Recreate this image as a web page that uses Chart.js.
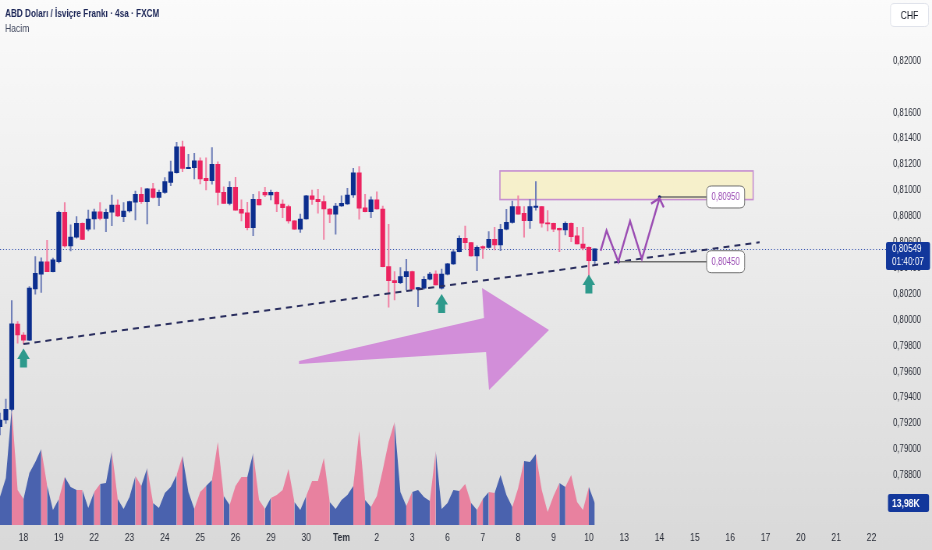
<!DOCTYPE html>
<html><head><meta charset="utf-8">
<script src="https://cdn.jsdelivr.net/npm/chart.js@4.4.1/dist/chart.umd.min.js"></script>
<style>
html,body{margin:0;padding:0;background:#e6e6e6;overflow:hidden;}
#outer{position:relative;width:932px;height:550px;overflow:hidden;}
#wrap{position:absolute;left:0;top:0;width:1195px;height:550px;transform:scaleX(0.779916);transform-origin:0 0;}
</style>
</head><body><div id="outer"><div id="wrap"><canvas id="c"></canvas></div></div>
<script>
// ---------- DATA (4h bars, bar index 0 = first bar of the 18th) ----------
const FIRST_BAR = -4;
const openP  = [0.79176,0.79228,0.79310,0.79968,0.79883,0.79845,0.80240,0.80354,0.80450,0.80374,0.80450,0.80832,0.80572,0.80639,0.80747,0.80701,0.80780,0.80836,0.80785,0.80832,0.80888,0.80798,0.80842,0.80909,0.80971,0.80914,0.81012,0.80947,0.80986,0.81063,0.81137,0.81338,0.81168,0.81176,0.81230,0.81094,0.81076,0.81202,0.80986,0.80901,0.81025,0.80855,0.80828,0.80713,0.80932,0.80986,0.80965,0.80986,0.80896,0.80875,0.80765,0.80701,0.80780,0.80958,0.80932,0.80914,0.80857,0.80818,0.80880,0.80896,0.80965,0.81137,0.80867,0.80836,0.80927,0.80857,0.80412,0.80304,0.80289,0.80335,0.80374,0.80238,0.80246,0.80315,0.80354,0.80246,0.80354,0.80433,0.80527,0.80631,0.80597,0.80494,0.80566,0.80560,0.80623,0.80579,0.80701,0.80754,0.80875,0.80824,0.80767,0.80870,0.80875,0.80751,0.80747,0.80708,0.80695,0.80747,0.80649,0.80587,0.80562,0.80458];
const highP  = [0.79282,0.79390,0.80149,0.79988,0.79903,0.80258,0.80489,0.80481,0.80615,0.80479,0.80842,0.80906,0.80734,0.80798,0.80750,0.80849,0.80857,0.80906,0.80857,0.80965,0.80927,0.80906,0.80919,0.80996,0.81022,0.81017,0.81056,0.81004,0.81099,0.81228,0.81372,0.81382,0.81280,0.81287,0.81253,0.81253,0.81331,0.81222,0.81029,0.81068,0.81102,0.80927,0.80909,0.80971,0.80991,0.81025,0.81004,0.80990,0.80927,0.80888,0.80767,0.80818,0.80962,0.81004,0.81009,0.80958,0.80860,0.80901,0.80958,0.81017,0.81171,0.81184,0.80971,0.80952,0.80989,0.80880,0.80739,0.80374,0.80405,0.80469,0.80377,0.80252,0.80335,0.80369,0.80379,0.80394,0.80438,0.80546,0.80649,0.80726,0.80600,0.80572,0.80572,0.80682,0.80716,0.80739,0.80855,0.80919,0.80958,0.80875,0.80932,0.81068,0.80878,0.80844,0.80749,0.80710,0.80759,0.80750,0.80716,0.80716,0.80565,0.80549];
const lowP   = [0.79112,0.79202,0.79297,0.79822,0.79816,0.79840,0.80199,0.80212,0.80374,0.80371,0.80441,0.80562,0.80533,0.80631,0.80620,0.80688,0.80701,0.80772,0.80682,0.80728,0.80798,0.80759,0.80832,0.80772,0.80901,0.80741,0.80940,0.80883,0.80978,0.81037,0.81133,0.81145,0.81168,0.81089,0.81050,0.81004,0.81048,0.80888,0.80901,0.80888,0.80849,0.80765,0.80695,0.80651,0.80888,0.80952,0.80927,0.80836,0.80790,0.80747,0.80699,0.80677,0.80778,0.80893,0.80824,0.80623,0.80751,0.80662,0.80878,0.80893,0.80947,0.80778,0.80834,0.80790,0.80855,0.80410,0.80099,0.80155,0.80280,0.80233,0.80233,0.80103,0.80238,0.80310,0.80271,0.80238,0.80348,0.80430,0.80525,0.80549,0.80492,0.80381,0.80476,0.80554,0.80541,0.80535,0.80695,0.80747,0.80818,0.80639,0.80708,0.80849,0.80716,0.80688,0.80682,0.80527,0.80657,0.80605,0.80587,0.80541,0.80341,0.80425];
const closeP = [0.79228,0.79310,0.79970,0.79885,0.79845,0.80246,0.80361,0.80450,0.80374,0.80464,0.80832,0.80572,0.80641,0.80747,0.80623,0.80780,0.80836,0.80785,0.80832,0.80888,0.80803,0.80842,0.80914,0.80971,0.80914,0.81012,0.80947,0.80986,0.81068,0.81145,0.81338,0.81171,0.81179,0.81230,0.81089,0.81076,0.81202,0.80986,0.80901,0.81025,0.80849,0.80824,0.80713,0.80932,0.80888,0.80965,0.80986,0.80896,0.80867,0.80765,0.80701,0.80780,0.80958,0.80932,0.80914,0.80857,0.80818,0.80880,0.80901,0.80965,0.81137,0.80863,0.80836,0.80927,0.80857,0.80412,0.80304,0.80289,0.80335,0.80374,0.80238,0.80250,0.80315,0.80354,0.80271,0.80354,0.80433,0.80527,0.80631,0.80597,0.80494,0.80562,0.80554,0.80623,0.80579,0.80701,0.80754,0.80875,0.80818,0.80767,0.80875,0.80880,0.80747,0.80741,0.80701,0.80695,0.80747,0.80643,0.80587,0.80554,0.80458,0.80549];
const volumeK = [17.8,29.9,74.4,22.2,16.5,33.0,40.0,48.3,25.4,9.5,16.5,30.5,24.1,22.2,22.2,10.8,21.0,26.1,26.7,47.0,16.5,10.2,17.8,31.1,24.8,36.2,14.0,10.8,20.3,24.1,31.8,43.8,21.0,10.2,21.0,24.8,28.6,52.7,18.4,12.7,24.8,30.5,30.5,45.8,15.9,10.2,17.2,19.1,22.2,35.6,14.6,9.5,18.4,28.0,28.0,42.6,14.6,10.2,15.9,19.1,24.8,59.7,15.9,11.4,18.4,35.0,52.7,65.5,21.0,12.1,21.0,22.2,17.8,15.3,47.0,10.2,14.0,22.2,21.6,26.1,14.0,9.5,16.5,21.0,20.3,31.8,19.1,11.4,23.5,40.7,40.0,45.1,22.2,8.3,18.4,26.7,24.1,31.8,14.6,9.5,24.1,13.98];
const dayLabels   = ['18','19','22','23','24','25','26','29','30','Tem','2','3','6','7','8','9','10','13','14','15','16','17','20','21','22'];
const dayTickBars = [0,6,12,18,24,30,36,42,48,54,60,66,72,78,84,90,96,102,108,114,120,126,132,138,144];
const priceTicks  = [0.788,0.790,0.792,0.794,0.796,0.798,0.800,0.802,0.804,0.806,0.808,0.810,0.812,0.814,0.816,0.820];
const lastPrice = 0.80549;
const lastVolumeText = '13,98K';
const countdownText = '01:40:07';
// drawings (bar index / price)
const trendBars = [0, 125];
const trendPrices = [0.79815, 0.80600];
const zoneBars = [80.9, 123.9];
const zonePrices = [0.80930, 0.81151];
const zigBars = [98, 99, 101, 103, 105, 108];
const zigPrices = [0.80535, 0.80690, 0.80450, 0.80764, 0.80471, 0.80940];
const levelPrices = [0.80950, 0.80450];
const levelFromBars = [108, 101];
const levelLabelBar = 116;
const bigArrowBars = [46.78, 78.2, 77.86, 89.23, 79.05, 78.54, 46.78];
const bigArrowPrices = [0.79683, 0.80015, 0.80247, 0.79923, 0.79459, 0.79753, 0.79660];
const markBars = [0, 71, 96];
const markPrices = [0.79780, 0.80201, 0.80351];
const titleText = 'ABD Doları / İsviçre Frankı · 4sa · FXCM';
const volTitle = 'Hacim';
const currency = 'CHF';

// ---------- STYLE ----------
const SX = 0.779916;               // horizontal squeeze of the page (condensed look)
const X = v => v / SX;             // display px -> canvas px (horizontal)
const FONT = "'Liberation Sans',Arial,sans-serif";
const COL = {blue:'#0c2e8e', red:'#ec2360', blueWick:'#6f7fb8', redWick:'#f184a6',
  volBlue:'#4a62ae', volRed:'#e8819f', axis:'#2a2e39', tag:'#12379b'};
const fmt = v => v.toFixed(5).replace('.', ',');

const bars = openP.map((_, k) => FIRST_BAR + k);
const up = openP.map((o, k) => closeP[k] >= o);

function rr(ctx, x, y, w, h, r){const rx=r/SX;ctx.beginPath();ctx.moveTo(x+rx,y);ctx.lineTo(x+w-rx,y);ctx.quadraticCurveTo(x+w,y,x+w,y+r);ctx.lineTo(x+w,y+h-r);ctx.quadraticCurveTo(x+w,y+h,x+w-rx,y+h);ctx.lineTo(x+rx,y+h);ctx.quadraticCurveTo(x,y+h,x,y+h-r);ctx.lineTo(x,y+r);ctx.quadraticCurveTo(x,y,x+rx,y);ctx.closePath();}

const decor = {
  id:'decor',
  beforeDraw(chart){
    const {ctx, width, height} = chart;
    const g = ctx.createLinearGradient(0,0,0,height);
    g.addColorStop(0,'#fbfbfb'); g.addColorStop(1,'#d9d9d9');
    ctx.save(); ctx.fillStyle = g; ctx.fillRect(0,0,width,height); ctx.restore();
  },
  beforeDatasetsDraw(chart){
    const {ctx, scales:{x, y}} = chart;
    ctx.save();
    const x0 = x.getPixelForValue(zoneBars[0]), x1 = x.getPixelForValue(zoneBars[1]);
    const y0 = y.getPixelForValue(zonePrices[1]), y1 = y.getPixelForValue(zonePrices[0]);
    ctx.fillStyle = '#f6f0cb'; ctx.fillRect(x0, y0, x1-x0, y1-y0);
    ctx.strokeStyle = '#c68fd0'; ctx.lineWidth = 1.6; ctx.strokeRect(x0, y0, x1-x0, y1-y0);
    const py = Math.round(y.getPixelForValue(lastPrice)) + 0.5;
    ctx.strokeStyle = '#3553b0'; ctx.lineWidth = 1; ctx.setLineDash([X(1),X(2)]);
    ctx.beginPath(); ctx.moveTo(0, py); ctx.lineTo(X(887), py); ctx.stroke();
    ctx.restore();
  },
  afterDatasetsDraw(chart){
    const {ctx, scales:{x, y}} = chart;
    ctx.save();
    // big arrow
    ctx.fillStyle = '#d28ed9';
    ctx.beginPath();
    bigArrowBars.forEach((b, k) => { const px = x.getPixelForValue(b), py = y.getPixelForValue(bigArrowPrices[k]); k ? ctx.lineTo(px, py) : ctx.moveTo(px, py); });
    ctx.closePath(); ctx.fill();
    // trend line
    ctx.strokeStyle = '#2b2f5f'; ctx.lineWidth = 2; ctx.setLineDash([X(6),X(5)]);
    ctx.beginPath();
    ctx.moveTo(x.getPixelForValue(trendBars[0]), y.getPixelForValue(trendPrices[0]));
    ctx.lineTo(x.getPixelForValue(trendBars[1]), y.getPixelForValue(trendPrices[1]));
    ctx.stroke(); ctx.setLineDash([]);
    // level lines + labels
    const lx = x.getPixelForValue(levelLabelBar);
    levelPrices.forEach((p, k) => {
      const py = y.getPixelForValue(p);
      const sx = x.getPixelForValue(levelFromBars[k]);
      ctx.strokeStyle = '#6e6e6e'; ctx.lineWidth = 1.5;
      ctx.beginPath(); ctx.moveTo(sx, py); ctx.lineTo(lx, py); ctx.stroke();
      ctx.fillStyle = '#1c2a6a'; ctx.beginPath(); ctx.ellipse(sx, py, X(1.6), 1.6, 0, 0, Math.PI*2); ctx.fill();
      rr(ctx, lx, py-11, X(38), 22, 5); ctx.fillStyle = '#ffffff'; ctx.fill();
      ctx.strokeStyle = '#707070'; ctx.lineWidth = 1; ctx.stroke();
      ctx.fillStyle = '#9c4fb5'; ctx.font = '10px ' + FONT; ctx.textAlign = 'center'; ctx.textBaseline = 'middle';
      ctx.fillText(fmt(p), lx + X(19), py + 0.5);
    });
    // zigzag projection
    ctx.strokeStyle = '#9b4db3'; ctx.lineWidth = 2.4; ctx.lineJoin = 'miter';
    const pts = zigBars.map((b, k) => [x.getPixelForValue(b), y.getPixelForValue(zigPrices[k])]);
    ctx.beginPath(); pts.forEach((p, k) => k ? ctx.lineTo(p[0], p[1]) : ctx.moveTo(p[0], p[1])); ctx.stroke();
    const a = pts[pts.length-1], b = pts[pts.length-2];
    const ang = Math.atan2(b[1]-a[1], (b[0]-a[0])*SX);
    ctx.beginPath();
    ctx.moveTo(a[0] + X(10*Math.cos(ang+0.72)), a[1] + 10*Math.sin(ang+0.72));
    ctx.lineTo(a[0], a[1]);
    ctx.lineTo(a[0] + X(10*Math.cos(ang-0.72)), a[1] + 10*Math.sin(ang-0.72));
    ctx.stroke();
    // teal up arrows
    ctx.fillStyle = '#2e9a8c';
    markBars.forEach((mb, k) => {
      const cx = x.getPixelForValue(mb), top = y.getPixelForValue(markPrices[k]);
      ctx.beginPath(); ctx.moveTo(cx, top); ctx.lineTo(cx+X(6.3), top+10.5); ctx.lineTo(cx+X(3.5), top+10.5);
      ctx.lineTo(cx+X(3.5), top+19); ctx.lineTo(cx-X(3.5), top+19); ctx.lineTo(cx-X(3.5), top+10.5); ctx.lineTo(cx-X(6.3), top+10.5);
      ctx.closePath(); ctx.fill();
    });
    ctx.restore();
  },
  afterDraw(chart){
    const {ctx, scales:{y, yv}} = chart;
    ctx.save();
    ctx.textAlign = 'left'; ctx.textBaseline = 'middle';
    ctx.fillStyle = '#1c2657'; ctx.font = 'bold 10.5px ' + FONT; ctx.fillText(titleText, X(5), 14);
    ctx.fillStyle = '#434a60'; ctx.font = '11px ' + FONT; ctx.fillText(volTitle, X(5), 28.5);
    // CHF box
    rr(ctx, X(890.5), 3.5, X(38), 23, 4); ctx.fillStyle = '#ffffff'; ctx.fill(); ctx.strokeStyle = '#e0e3eb'; ctx.lineWidth = 1; ctx.stroke();
    ctx.fillStyle = '#131722'; ctx.font = '11px ' + FONT; ctx.textAlign = 'center'; ctx.fillText(currency, X(909.5), 15.5);
    // last price tag
    const py = y.getPixelForValue(lastPrice);
    rr(ctx, X(886), py-7, X(44), 28, 2); ctx.fillStyle = COL.tag; ctx.fill();
    ctx.fillStyle = '#ffffff'; ctx.textAlign = 'left'; ctx.font = '10.5px ' + FONT;
    ctx.fillText(fmt(lastPrice), X(892), py+0.5); ctx.fillText(countdownText, X(892), py+13.5);
    // volume tag
    const vy = yv.getPixelForValue(volumeK[volumeK.length-1]);
    rr(ctx, X(888), vy-9, X(41), 18, 2); ctx.fillStyle = COL.tag; ctx.fill();
    ctx.fillStyle = '#ffffff'; ctx.font = 'bold 11px ' + FONT; ctx.fillText(lastVolumeText, X(892), vy+0.5);
    ctx.restore();
  }
};

new Chart(document.getElementById('c'), {
  type: 'bar',
  data: { datasets: [
    { type:'bar', label:'body', yAxisID:'y', order:0, grouped:false, barThickness:X(4.3), minBarLength:1.2, borderWidth:0,
      data: bars.map((b, k) => ({x:b, y:[openP[k], closeP[k]]})),
      backgroundColor: up.map(u => u ? COL.blue : COL.red) },
    { type:'bar', label:'wick', yAxisID:'y', order:1, grouped:false, barThickness:X(1.1), borderWidth:0,
      data: bars.map((b, k) => ({x:b, y:[lowP[k], highP[k]]})),
      backgroundColor: up.map(u => u ? COL.blueWick : COL.redWick) },
    { type:'line', label:'volume', yAxisID:'yv', order:2, fill:'origin', borderWidth:0, pointRadius:0, tension:0,
      borderColor:'rgba(0,0,0,0)', backgroundColor: COL.volBlue,
      segment:{ backgroundColor: c => up[c.p1DataIndex] ? COL.volBlue : COL.volRed },
      data: bars.map((b, k) => ({x:b, y:volumeK[k]})) }
  ]},
  options: {
    responsive:true, maintainAspectRatio:false, animation:false, events:[], devicePixelRatio:1,
    layout:{ padding:0 },
    plugins:{ legend:{display:false}, tooltip:{enabled:false}, title:{display:false} },
    scales:{
      x:{ type:'linear', min:-3.99, max:146.12, offset:false,
        grid:{display:false, drawTicks:false}, border:{display:false},
        afterBuildTicks: s => { s.ticks = dayTickBars.map(v => ({value:v})); },
        afterFit: s => { s.height = 25; s.paddingLeft = 0; s.paddingRight = 0; },
        ticks:{ autoSkip:false, maxRotation:0, padding:6, color:COL.axis,
          font: c => ({family:FONT, size:11, weight: dayLabels[c.index] === 'Tem' ? 'bold' : 'normal'}),
          callback: (v, i) => dayLabels[i] } },
      y:{ type:'linear', position:'right', min:0.78417, max:0.82471,
        grid:{display:false, drawTicks:false}, border:{display:false},
        afterBuildTicks: s => { s.ticks = priceTicks.map(v => ({value:v})); },
        afterFit: s => { s.width = X(48); s.paddingTop = 0; s.paddingBottom = 0; },
        ticks:{ padding:X(9), color:COL.axis, font:{family:FONT, size:10}, callback: v => fmt(v) } },
      yv:{ type:'linear', display:false, min:0, max:333.6 }
    }
  },
  plugins:[decor]
});
</script></body></html>
